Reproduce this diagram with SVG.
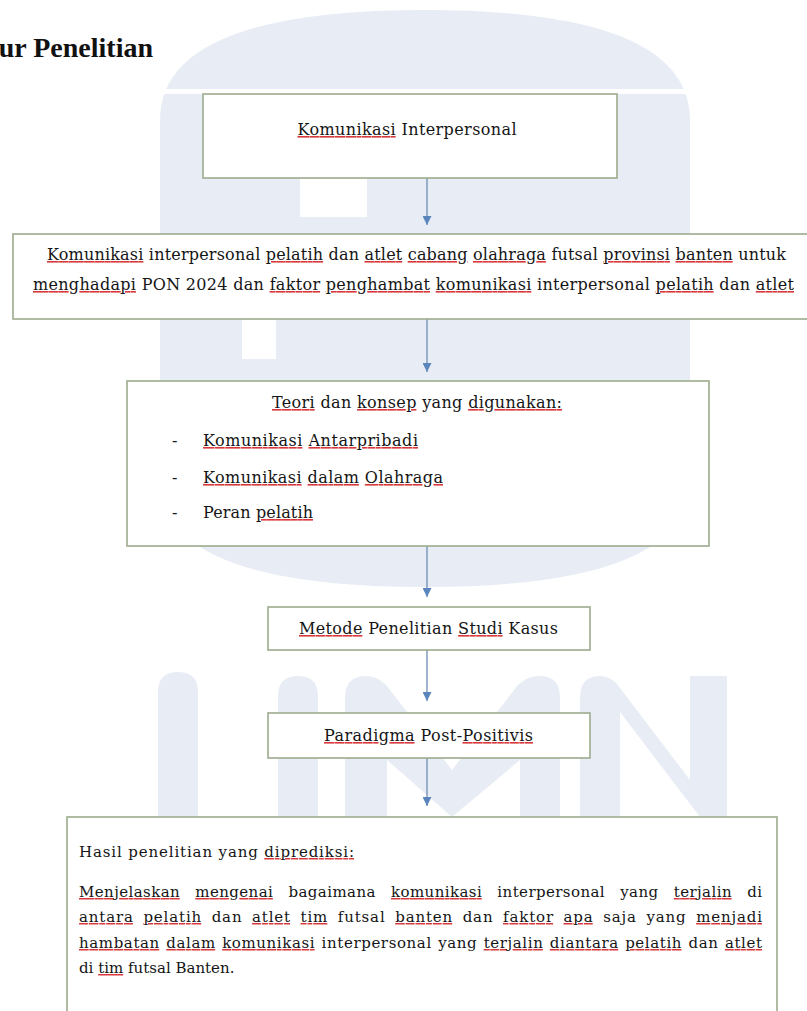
<svg xmlns="http://www.w3.org/2000/svg" width="807" height="1011" viewBox="0 0 807 1011">
<style>
.t{font-family:"DejaVu Serif","Liberation Serif",serif;font-size:16px;fill:#151515}
.t6{font-size:15px}
.sp{fill:#d8383c;text-decoration-line:underline;text-decoration-style:wavy;text-decoration-thickness:1px;text-underline-offset:2px}
.sp tspan{fill:#151515}
.box{fill:#ffffff;stroke:#9dab8e;stroke-width:1.6}
.wm{fill:#e8edf5}
.wh{fill:#ffffff}
#connectors line{stroke:#6d8db4;stroke-width:1.3;marker-end:url(#ah)}
</style>
<defs>
<marker id="ah" viewBox="0 0 10 10" refX="10" refY="5" markerWidth="10" markerHeight="9" markerUnits="userSpaceOnUse" orient="auto">
<path d="M0,0 L10,5 L0,10 z" fill="#5b86bd"/>
</marker>
</defs>
<rect width="807" height="1011" fill="#ffffff"/>
<g id="watermark">
<path class="wm" d="M160,120 Q160,10 425,10 Q690,10 690,120 V480 Q690,587 425,587 Q160,587 160,480 Z"/>
<rect class="wh" x="150" y="89" width="560" height="5"/>
<rect class="wh" x="300" y="178" width="67" height="39"/>
<rect class="wh" x="242" y="319" width="34" height="40"/>
<path class="wm" d="M158,817 V692 Q158,672 178,672 Q198,672 198,692 V817 Z"/>
<path class="wm" d="M278,817 V696 Q278,676 298,676 Q318,676 318,696 V817 Z"/>
<path class="wm" d="M345,817 V698 Q345,676 366,676 Q380,676 390,690 L452,770 L514,690 Q524,676 540,676 Q560,676 560,698 V817 H520 V760 L452,817 L387,760 V817 Z"/>
<path class="wm" d="M580,817 V698 Q580,676 600,676 Q612,676 620,688 L690,780 V676 H727 V817 H700 L620,712 V817 Z"/>
</g>
<text x="153" y="57" text-anchor="end" font-family="Liberation Serif, serif" font-weight="bold" font-size="28" fill="#111">ur Penelitian</text>
<g id="connectors">
<line x1="427" y1="178" x2="427" y2="225"/>
<line x1="427" y1="319" x2="427" y2="372"/>
<line x1="427" y1="546" x2="427" y2="597"/>
<line x1="427" y1="650" x2="427" y2="701"/>
<line x1="427" y1="758" x2="427" y2="806"/>
</g>
<g id="node1">
<rect class="box" x="203" y="94" width="414" height="84"/>
<text class="t" x="407" y="135" text-anchor="middle" textLength="219"><tspan class="sp"><tspan>Komunikasi</tspan></tspan> Interpersonal</text>
</g>
<g id="node2">
<rect class="box" x="13" y="234" width="805" height="85"/>
<text class="t" x="416.5" y="260" text-anchor="middle" textLength="739"><tspan class="sp"><tspan>Komunikasi</tspan></tspan> interpersonal <tspan class="sp"><tspan>pelatih</tspan></tspan> dan <tspan class="sp"><tspan>atlet</tspan></tspan> <tspan class="sp"><tspan>cabang</tspan></tspan> <tspan class="sp"><tspan>olahraga</tspan></tspan> futsal <tspan class="sp"><tspan>provinsi</tspan></tspan> <tspan class="sp"><tspan>banten</tspan></tspan> untuk</text>
<text class="t" x="413.5" y="290" text-anchor="middle" textLength="761"><tspan class="sp"><tspan>menghadapi</tspan></tspan> PON 2024 dan <tspan class="sp"><tspan>faktor</tspan></tspan> <tspan class="sp"><tspan>penghambat</tspan></tspan> <tspan class="sp"><tspan>komunikasi</tspan></tspan> interpersonal <tspan class="sp"><tspan>pelatih</tspan></tspan> dan <tspan class="sp"><tspan>atlet</tspan></tspan></text>
</g>
<g id="node3">
<rect class="box" x="127" y="381" width="582" height="165"/>
<text class="t" x="417" y="408" text-anchor="middle" textLength="290"><tspan class="sp"><tspan>Teori</tspan></tspan> dan <tspan class="sp"><tspan>konsep</tspan></tspan> yang <tspan class="sp"><tspan>digunakan:</tspan></tspan></text>
<text class="t" x="172" y="446">-</text>
<text class="t" x="172" y="483">-</text>
<text class="t" x="172" y="518">-</text>
<text class="t" x="203" y="446" textLength="215"><tspan class="sp"><tspan>Komunikasi</tspan></tspan> <tspan class="sp"><tspan>Antarpribadi</tspan></tspan></text>
<text class="t" x="203" y="483" textLength="240"><tspan class="sp"><tspan>Komunikasi</tspan></tspan> <tspan class="sp"><tspan>dalam</tspan></tspan> <tspan class="sp"><tspan>Olahraga</tspan></tspan></text>
<text class="t" x="203" y="518" textLength="110">Peran <tspan class="sp"><tspan>pelatih</tspan></tspan></text>
</g>
<g id="node4">
<rect class="box" x="268" y="607" width="322" height="43"/>
<text class="t" x="428.5" y="634" text-anchor="middle" textLength="259"><tspan class="sp"><tspan>Metode</tspan></tspan> Penelitian <tspan class="sp"><tspan>Studi</tspan></tspan> Kasus</text>
</g>
<g id="node5">
<rect class="box" x="268" y="713" width="322" height="45"/>
<text class="t" x="428.5" y="741" text-anchor="middle" textLength="209"><tspan class="sp"><tspan>Paradigma</tspan></tspan> Post-<tspan class="sp"><tspan>Positivis</tspan></tspan></text>
</g>
<g id="node6">
<rect class="box" x="67" y="817" width="710" height="220"/>
<text class="t t6" x="79" y="857" textLength="275">Hasil penelitian yang <tspan class="sp"><tspan>diprediksi:</tspan></tspan></text>
<text class="t t6" x="79" y="897" textLength="683" word-spacing="10"><tspan class="sp"><tspan>Menjelaskan</tspan></tspan> <tspan class="sp"><tspan>mengenai</tspan></tspan> bagaimana <tspan class="sp"><tspan>komunikasi</tspan></tspan> interpersonal yang <tspan class="sp"><tspan>terjalin</tspan></tspan> di</text>
<text class="t t6" x="79" y="922" textLength="683" word-spacing="4"><tspan class="sp"><tspan>antara</tspan></tspan> <tspan class="sp"><tspan>pelatih</tspan></tspan> dan <tspan class="sp"><tspan>atlet</tspan></tspan> <tspan class="sp"><tspan>tim</tspan></tspan> futsal <tspan class="sp"><tspan>banten</tspan></tspan> dan <tspan class="sp"><tspan>faktor</tspan></tspan> <tspan class="sp"><tspan>apa</tspan></tspan> saja yang <tspan class="sp"><tspan>menjadi</tspan></tspan></text>
<text class="t t6" x="79" y="948" textLength="683" word-spacing="1"><tspan class="sp"><tspan>hambatan</tspan></tspan> <tspan class="sp"><tspan>dalam</tspan></tspan> <tspan class="sp"><tspan>komunikasi</tspan></tspan> interpersonal yang <tspan class="sp"><tspan>terjalin</tspan></tspan> <tspan class="sp"><tspan>diantara</tspan></tspan> <tspan class="sp"><tspan>pelatih</tspan></tspan> dan <tspan class="sp"><tspan>atlet</tspan></tspan></text>
<text class="t t6" x="79" y="973">di <tspan class="sp"><tspan>tim</tspan></tspan> futsal Banten.</text>
</g>
</svg>
